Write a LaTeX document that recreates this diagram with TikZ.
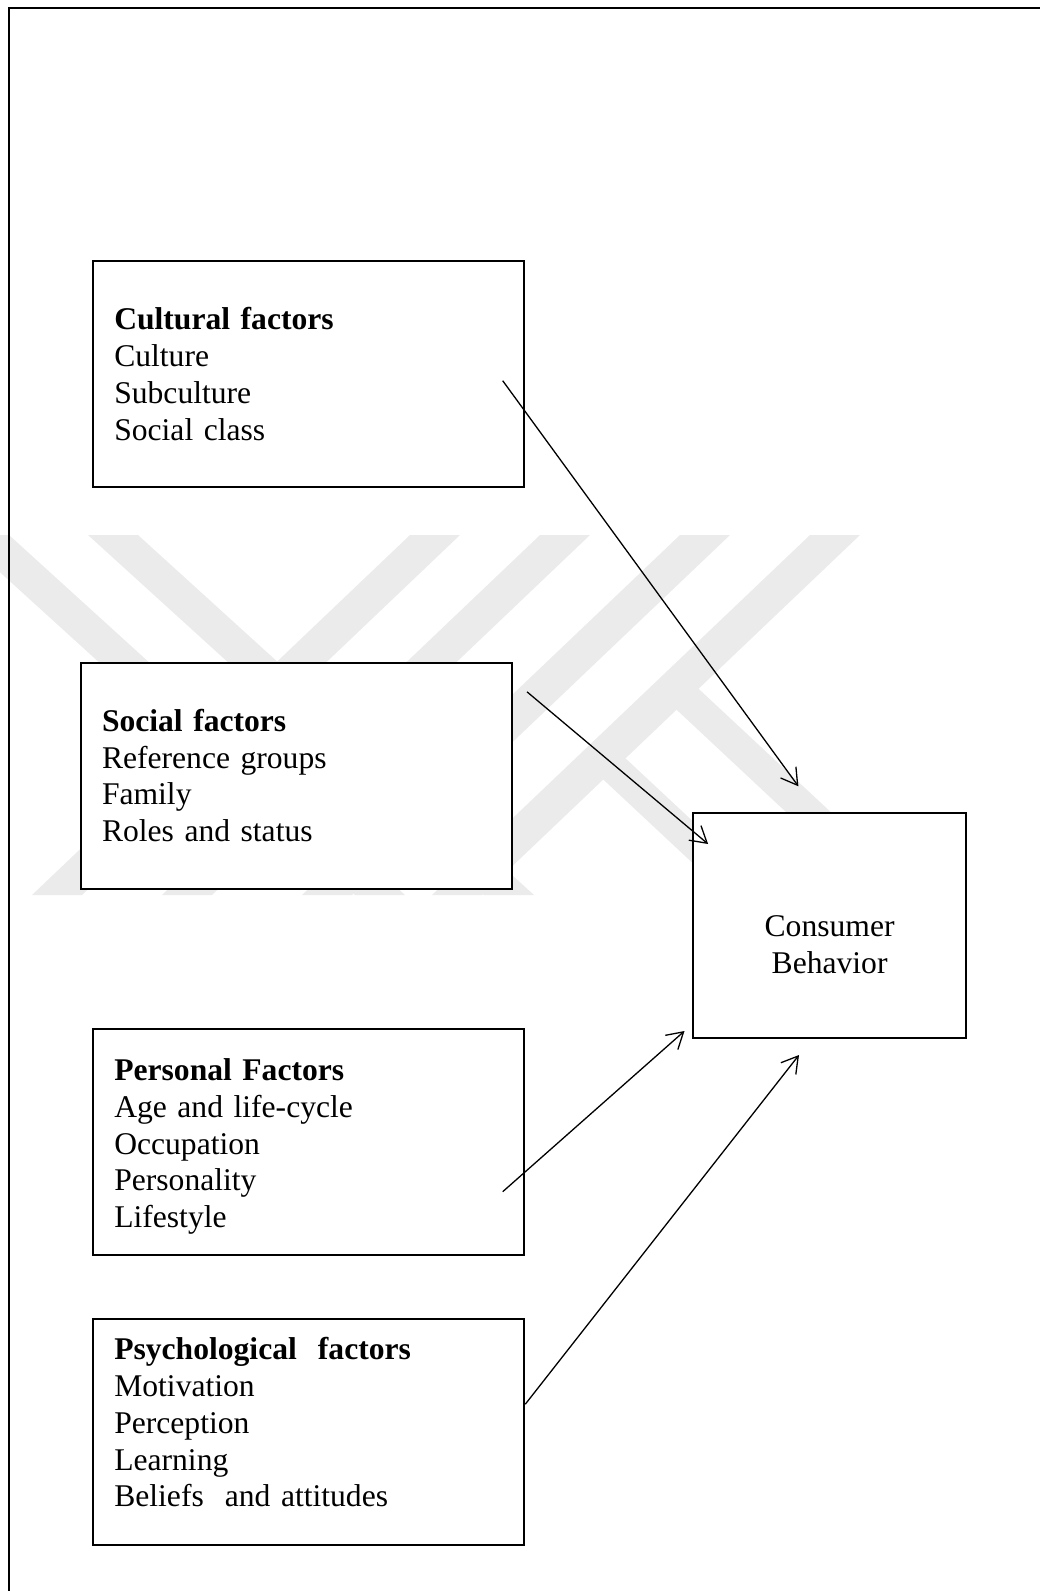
\documentclass[tikz,border=0pt]{standalone}
\usepackage{fontspec}
\setmainfont{Liberation Serif}
\usetikzlibrary{arrows.meta,positioning}

\begin{document}
\begin{tikzpicture}[
  x=1pt, y=-1pt,
  node distance=62.4pt,
  box/.style={rectangle,draw,line width=2pt,fill=white,
    text width=389pt,align=left,inner xsep=21pt,inner ysep=0pt,
    minimum height=226pt,font=\fontsize{31.6}{36.7}\selectfont},
  cbbox/.style={rectangle,draw,line width=2pt,fill=white,align=center,
    minimum width=273pt,minimum height=225.6pt,text height=96pt,
    font=\fontsize{31.6}{36.7}\selectfont},
  arr/.style={-{Straight Barb[length=16pt,width=19pt]},line width=1.3pt},
  wm/.style={fill=black!8}
]
\useasboundingbox (0,0) rectangle (1040,1591);
% watermark
\foreach \t in {410,540,680,810}
  \fill[wm] (\t,535) -- ++(50,0) -- ++(-378,360) -- ++(-50,0) -- cycle;
\foreach \t in {-41,88}
  \fill[wm] (\t,535) -- ++(50,0) -- ++(396,360) -- ++(-50,0) -- cycle;
\fill[wm] (689.7,680.5) -- (668,701.7) -- (874.7,895) -- (919.7,895) -- cycle;
\fill[wm] (616.9,750.3) -- (594.7,771.5) -- (726.8,895) -- (771.8,895) -- cycle;
% frame
\draw[line width=2.2pt] (9,1600) -- (9,8) -- (1050,8);

\node[box] (cult) at (308.8,374) {\textbf{Cultural factors}\\ Culture\\ Subculture\\ Social class};
\node[box] (soc) at (296.5,775.5) {\textbf{Social factors}\\ Reference groups\\ Family\\ Roles and status};
\node[box,text height=31.5pt] (pers) at (308.8,1141.8) {\textbf{Personal Factors}\\ Age and life-cycle\\ Occupation\\ Personality\\ Lifestyle};
\node[box,below=of pers,text depth=166.8pt] (psy) {\textbf{Psychological\ \ factors}\\ Motivation\\ Perception\\ Learning\\ Beliefs\ \ and attitudes};
\node[cbbox] (cb) at (829.6,925.5) {Consumer\\ Behavior};

\draw[arr] ([shift={(-22.6,6.7)}]cult.east) -- ([shift={(-31.2,-25.4)}]cb.north);
\draw[arr] ([shift={(14,30.3)}]soc.north east) -- ([shift={(16,32.3)}]cb.north west);
\draw[arr] ([shift={(-22.6,49.9)}]pers.east) -- ([shift={(-7.6,-8.3)}]cb.south west);
\draw[arr] ([shift={(0,-28)}]psy.east) -- ([shift={(-30.6,15.7)}]cb.south);
\end{tikzpicture}
\end{document}
